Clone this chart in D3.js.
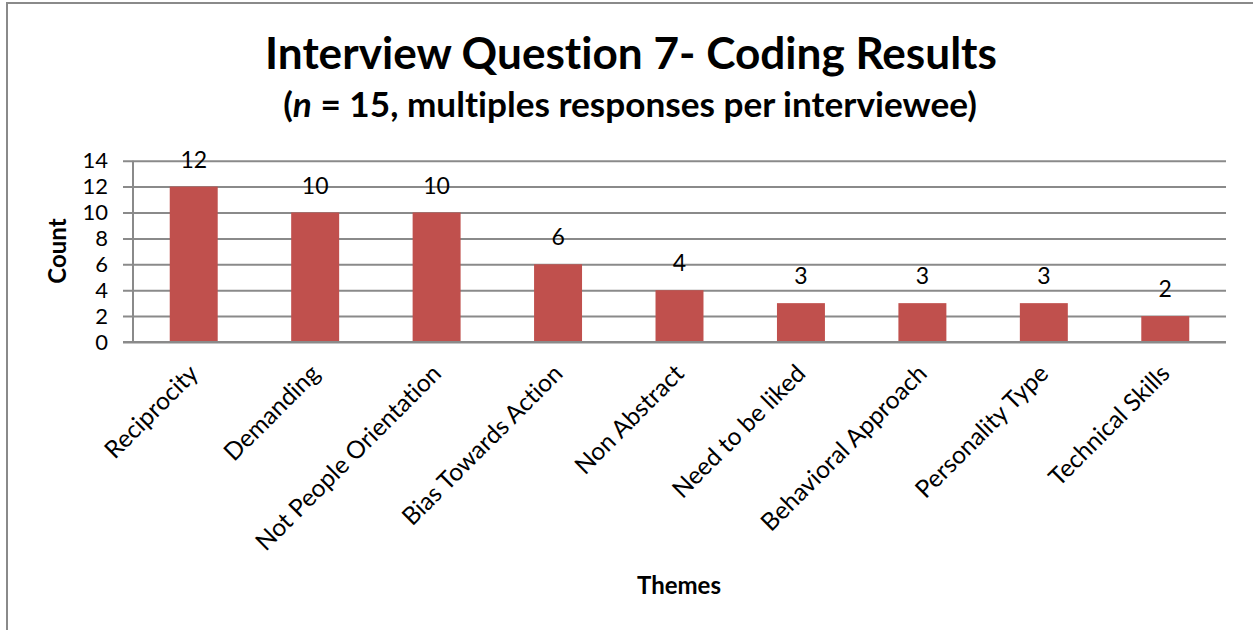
<!DOCTYPE html>
<html>
<head>
<meta charset="utf-8">
<script src="https://cdn.jsdelivr.net/npm/d3@7"></script>
<style>
  html, body { margin: 0; padding: 0; background: #fff; }
  svg { display: block; font-family: Lato, "Open Sans", sans-serif; font-variant-ligatures: none; }
</style>
</head>
<body>
<svg id="chart" width="1253" height="630"></svg>
<script>
// Coding themes and how many times each came up
const themes = [
  "Reciprocity", "Demanding", "Not People Orientation", "Bias Towards Action",
  "Non Abstract", "Need to be liked", "Behavioral Approach", "Personality Type",
  "Technical Skills"
];
const counts = [12, 10, 10, 6, 4, 3, 3, 3, 2];
const yTicks = [0, 2, 4, 6, 8, 10, 12, 14];

const titleText = "Interview Question 7- Coding Results";
const xTitle = "Themes";
const yTitle = "Count";

const svg = d3.select("#chart");
const gridColor = "#8a8a8a";
const barColor = "#C0504D";

// Outer chart frame
svg.append("rect")
  .attr("x", 7).attr("y", 3)
  .attr("width", 1260).attr("height", 640)
  .attr("fill", "none").attr("stroke", gridColor).attr("stroke-width", 2);

const plot = { left: 133, right: 1226, top: 160.7, bottom: 342 };

const x = d3.scaleBand()
  .domain(themes)
  .range([plot.left, plot.right])
  .paddingInner(0.605)
  .paddingOuter(0.3025);

const y = d3.scaleLinear().domain([0, 14]).range([plot.bottom, plot.top]);

// Fit a text element to a target width by adjusting its font size
function fitWidth(sel, width) {
  const node = sel.node();
  const fs = parseFloat(sel.attr("font-size"));
  const w = node.getComputedTextLength();
  sel.attr("font-size", fs * width / w);
}

// Titles
const t1 = svg.append("text")
  .attr("x", 631).attr("y", 69)
  .attr("text-anchor", "middle")
  .attr("font-weight", "bold")
  .attr("font-size", 40)
  .attr("fill", "#000")
  .text(titleText);
fitWidth(t1, 732);

const t2 = svg.append("text")
  .attr("x", 630).attr("y", 117)
  .attr("text-anchor", "middle")
  .attr("font-weight", "bold")
  .attr("font-size", 28)
  .attr("fill", "#000");
t2.append("tspan").text("(");
t2.append("tspan").attr("font-style", "italic").text("n");
t2.append("tspan").text(" = 15, multiples responses per interviewee)");
fitWidth(t2, 694);

// Horizontal gridlines with small tick stubs on the left
const yAxis = d3.axisLeft(y)
  .tickValues(yTicks)
  .tickSize(-(plot.right - plot.left))
  .tickPadding(0)
  .tickFormat(d3.format("d"));

const gy = svg.append("g")
  .attr("transform", `translate(${plot.left},0)`)
  .call(yAxis);
gy.select(".domain").remove();
gy.selectAll(".tick line")
  .attr("x1", -10)
  .attr("stroke", gridColor).attr("stroke-width", 2);
gy.selectAll(".tick text")
  .attr("x", -25)
  .attr("font-size", 22)
  .attr("font-family", "Lato, sans-serif")
  .attr("fill", "#000");

// Vertical axis line
svg.append("line")
  .attr("x1", plot.left).attr("x2", plot.left)
  .attr("y1", plot.top).attr("y2", plot.bottom)
  .attr("stroke", gridColor).attr("stroke-width", 2);

// Bars
svg.append("g").selectAll("rect")
  .data(counts)
  .join("rect")
  .attr("x", (d, i) => x(themes[i]))
  .attr("y", d => y(d))
  .attr("width", x.bandwidth())
  .attr("height", d => y(0) - y(d))
  .attr("fill", barColor);

// Value labels above bars
svg.append("g").selectAll("text")
  .data(counts)
  .join("text")
  .attr("x", (d, i) => x(themes[i]) + x.bandwidth() / 2)
  .attr("y", d => y(d) - 19)
  .attr("text-anchor", "middle")
  .attr("font-size", 23)
  .attr("fill", "#000")
  .text(d => d);

// Redraw the baseline on top of the bars
svg.append("line")
  .attr("x1", plot.left - 10).attr("x2", plot.right)
  .attr("y1", y(0)).attr("y2", y(0))
  .attr("stroke", gridColor).attr("stroke-width", 2);

// Rotated category labels
svg.append("g").selectAll("text")
  .data(themes)
  .join("text")
  .attr("transform", d => `translate(${x(d) + x.bandwidth() / 2},${369}) rotate(-45)`)
  .attr("text-anchor", "end")
  .attr("dy", "0.35em")
  .attr("font-size", 24.5)
  .attr("fill", "#000")
  .text(d => d);

// Axis titles
svg.append("text")
  .attr("transform", "translate(66,251) rotate(-90)")
  .attr("text-anchor", "middle")
  .attr("font-weight", "bold")
  .attr("font-size", 24)
  .attr("fill", "#000")
  .text(yTitle);

svg.append("text")
  .attr("x", 679).attr("y", 594)
  .attr("text-anchor", "middle")
  .attr("font-weight", "bold")
  .attr("font-size", 24)
  .attr("fill", "#000")
  .text(xTitle);
</script>
</body>
</html>
